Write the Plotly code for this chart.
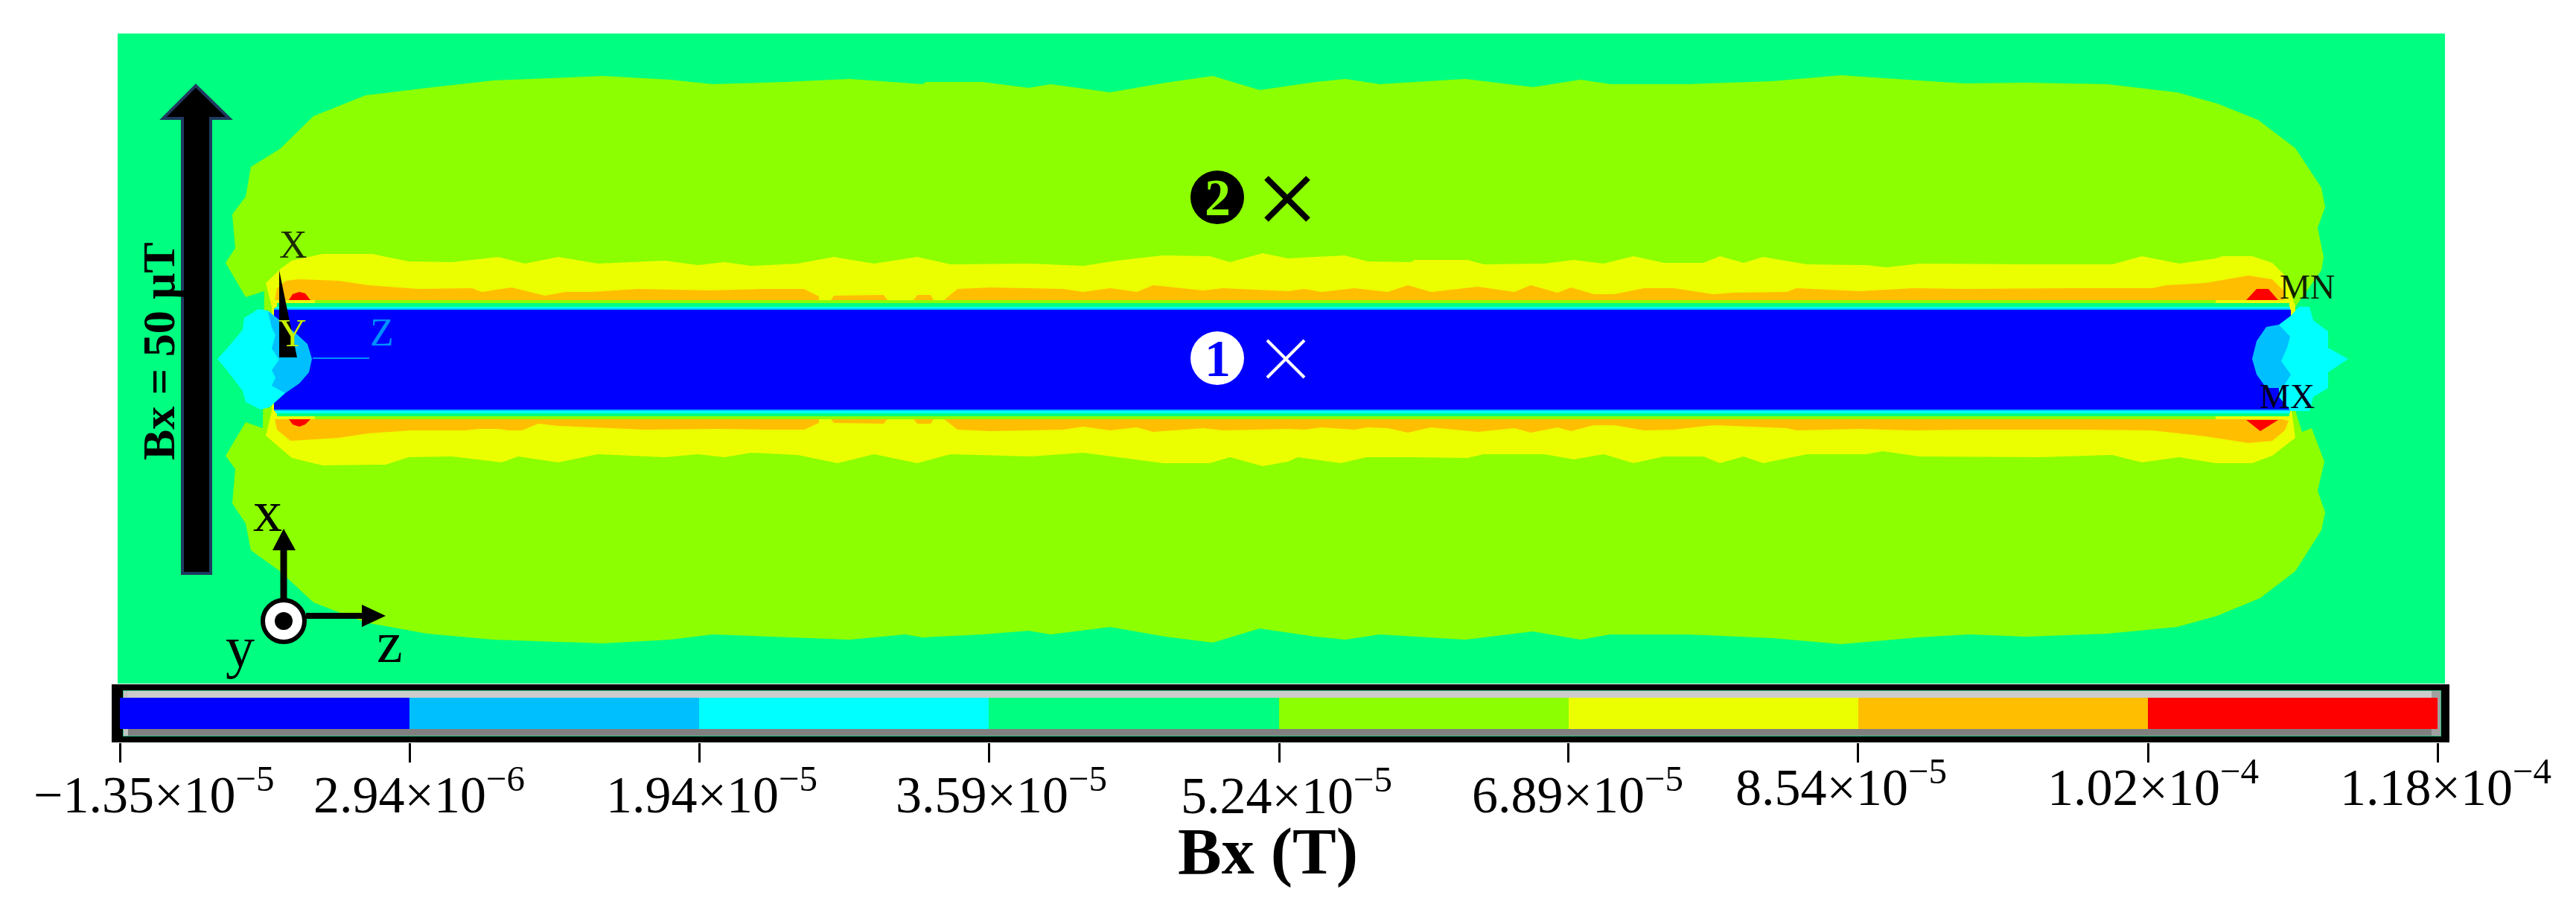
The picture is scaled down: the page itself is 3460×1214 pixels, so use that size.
import plotly.graph_objects as go

# contour colours, low to high, same order as the bar
band_colors = ["#0000FF", "#00BFFF", "#00FFFF", "#00FF80", "#8CFF00", "#EBFF00", "#FFBF00", "#FF0000"]
bar_edges = [-1.35e-5, 2.94e-6, 1.94e-5, 3.58e-5, 5.23e-5, 6.87e-5, 8.51e-5, 1.016e-4, 1.18e-4]
bar_bands = [[0, 1, 2, 3, 4, 5, 6, 7]]
bar_labels = [
    "−1.35×10<sup>−5</sup>", "2.94×10<sup>−6</sup>", "1.94×10<sup>−5</sup>",
    "3.59×10<sup>−5</sup>", "5.24×10<sup>−5</sup>", "6.89×10<sup>−5</sup>",
    "8.54×10<sup>−5</sup>", "1.02×10<sup>−4</sup>", "1.18×10<sup>−4</sup>",
]
bar_label_x = [207, 563, 956, 1345, 1728, 2119, 2473, 2892, 3285]
bar_label_y = [1062, 1062, 1062, 1062, 1063, 1062, 1052, 1052, 1052]

# contours as (horizontal, vertical) in image pixels
lobe_top = [
    (355, 391), (330, 399), (303, 353), (316, 333), (312, 288), (330, 264), (337, 224), (376, 200),
    (421, 156), (491, 128), (574, 118), (663, 108), (810, 102), (900, 107), (957, 113), (1055, 110),
    (1141, 106), (1239, 113), (1244, 110), (1319, 110), (1382, 118), (1411, 113), (1491, 124),
    (1566, 111), (1629, 102), (1692, 121), (1767, 110), (1807, 106), (1853, 113), (1968, 106),
    (2059, 117), (2123, 107), (2163, 113), (2266, 113), (2381, 109), (2473, 101), (2576, 108),
    (2639, 112), (2721, 111), (2830, 113), (2924, 124), (2978, 139), (3033, 161), (3083, 199),
    (3118, 252), (3123, 278), (3113, 306), (3121, 345), (3118, 363), (3083, 412),
]
lobe_bottom = [
    (3084, 555), (3092, 580), (3105, 575), (3122, 620), (3113, 659), (3123, 688), (3118, 712),
    (3083, 767), (3036, 803), (2978, 827), (2924, 842), (2830, 851), (2721, 855), (2645, 852),
    (2576, 856), (2473, 865), (2381, 857), (2266, 852), (2163, 852), (2123, 859), (2059, 848),
    (1968, 859), (1853, 852), (1807, 859), (1767, 855), (1692, 844), (1629, 863), (1566, 855),
    (1491, 842), (1411, 852), (1382, 847), (1319, 852), (1239, 856), (1216, 852), (1141, 859),
    (1055, 856), (957, 852), (900, 859), (810, 864), (663, 859), (574, 851), (491, 836),
    (421, 809), (376, 767), (337, 739), (330, 703), (312, 676), (316, 630), (303, 612),
    (330, 567), (353, 575),
]
yellow_top = [
    (365, 412), (357, 380), (378, 360), (392, 350), (433, 341), (500, 341), (549, 351), (607, 352),
    (669, 345), (705, 354), (750, 345), (803, 354), (893, 350), (937, 356), (973, 352), (1009, 357),
    (1071, 354), (1120, 345), (1174, 354), (1232, 345), (1277, 355), (1384, 354), (1455, 357),
    (1500, 350), (1562, 343), (1625, 344), (1652, 352), (1696, 340), (1730, 347), (1770, 345),
    (1806, 343), (1837, 351), (1895, 352), (1900, 349), (1971, 349), (1993, 355), (2074, 354),
    (2114, 349), (2154, 354), (2194, 344), (2235, 353), (2288, 353), (2310, 344), (2342, 353),
    (2368, 345), (2427, 355), (2507, 356), (2534, 359), (2578, 354), (2739, 355), (2837, 355),
    (2877, 344), (2927, 354), (2976, 347), (2985, 344), (3025, 344), (3052, 353), (3069, 370),
    (3083, 412),
]
yellow_bottom = [
    (3078, 552), (3083, 588), (3052, 612), (3025, 622), (2976, 622), (2927, 614), (2877, 621),
    (2837, 611), (2739, 614), (2578, 613), (2529, 606), (2507, 610), (2427, 610), (2368, 622),
    (2342, 613), (2310, 622), (2288, 613), (2235, 613), (2194, 622), (2154, 610), (2114, 617),
    (2074, 610), (1993, 610), (1971, 615), (1895, 614), (1835, 614), (1801, 622), (1743, 614),
    (1730, 620), (1696, 626), (1652, 614), (1625, 622), (1562, 622), (1500, 614), (1455, 608),
    (1384, 613), (1277, 610), (1232, 622), (1174, 610), (1125, 622), (1071, 611), (1009, 608),
    (973, 614), (937, 610), (893, 614), (803, 610), (750, 621), (696, 613), (674, 621), (607, 613),
    (549, 614), (518, 624), (433, 625), (392, 615), (357, 585), (365, 552),
]
orange_top = [
    (369, 403), (372, 387), (384, 377), (401, 375), (455, 377), (495, 383), (562, 388), (634, 387),
    (647, 392), (687, 386), (732, 397), (759, 392), (794, 392), (857, 388), (955, 390), (1027, 388),
    (1080, 388), (1100, 398), (1100, 403), (1116, 403), (1120, 397), (1187, 396), (1192, 403),
    (1227, 403), (1232, 396), (1250, 396), (1254, 403), (1268, 403), (1286, 388), (1330, 386),
    (1428, 388), (1455, 392), (1491, 387), (1527, 392), (1549, 383), (1616, 390), (1643, 387),
    (1730, 391), (1752, 388), (1775, 392), (1819, 387), (1864, 392), (1891, 383), (1922, 392),
    (1985, 385), (2034, 392), (2056, 383), (2092, 393), (2110, 386), (2141, 395), (2168, 395),
    (2208, 387), (2248, 387), (2302, 395), (2328, 393), (2400, 392), (2413, 387), (2498, 391),
    (2569, 387), (2641, 388), (2784, 387), (2891, 387), (2909, 383), (2962, 380), (3020, 370),
    (3052, 375), (3069, 392), (3068, 403),
]
orange_bottom = [
    (369, 563), (372, 577), (390, 592), (455, 588), (495, 582), (553, 578), (625, 578), (643, 576),
    (669, 576), (683, 578), (701, 578), (723, 569), (750, 572), (799, 574), (866, 577), (964, 576),
    (1027, 577), (1080, 577), (1100, 568), (1100, 563), (1116, 563), (1120, 568), (1187, 569),
    (1192, 563), (1227, 563), (1232, 569), (1250, 569), (1254, 563), (1268, 563), (1286, 577),
    (1330, 579), (1428, 577), (1455, 573), (1491, 578), (1527, 574), (1549, 580), (1616, 575),
    (1643, 578), (1730, 576), (1752, 577), (1775, 574), (1819, 577), (1837, 574), (1864, 575),
    (1891, 581), (1922, 574), (1985, 580), (2034, 575), (2056, 581), (2092, 574), (2110, 579),
    (2141, 571), (2168, 571), (2208, 578), (2248, 577), (2302, 571), (2328, 572), (2400, 575),
    (2413, 578), (2498, 576), (2569, 578), (2641, 577), (2784, 577), (2891, 578), (2962, 586),
    (3020, 595), (3052, 592), (3069, 578), (3074, 565), (3065, 563),
]
red_caps = [
    [(388, 403), (393, 395), (402, 392), (410, 394), (417, 403)],
    [(388, 563), (393, 570), (402, 573), (410, 570), (417, 563)],
    [(3017, 403), (3031, 388), (3047, 388), (3060, 403)],
    [(3017, 564), (3036, 579), (3060, 564)],
]
# thin layers along the conductor edges: band index, start, end, upper edge, lower edge
edge_strips = [
    (4, 423, 2976, 403, 407), (3, 372, 3075, 407, 412), (2, 370, 3076, 412, 414), (1, 368, 3076, 414, 416),
    (1, 368, 3076, 550, 552), (2, 370, 3076, 552, 555), (3, 372, 3075, 555, 559), (4, 423, 2976, 559, 563),
]
core = [(368, 416), (3077, 416), (3077, 550), (368, 550)]
left_cyan = [
    (292, 482), (303, 470), (326, 443), (328, 427), (347, 415), (360, 417), (375, 430),
    (383, 528), (362, 547), (350, 550), (330, 540), (326, 525), (303, 495),
]
left_blue = [
    (360, 418), (372, 427), (385, 437), (400, 450), (413, 462), (419, 482), (415, 500), (402, 515),
    (383, 528), (365, 518), (370, 507), (365, 497), (375, 483), (365, 468), (370, 450), (365, 440),
]
right_cyan = [
    (3154, 482), (3127, 467), (3127, 445), (3107, 430), (3102, 412), (3088, 412), (3077, 424),
    (3061, 436), (3061, 533), (3077, 552), (3102, 552), (3107, 533), (3127, 521), (3127, 500),
]
right_blue = [
    (3025, 482), (3031, 458), (3044, 439), (3061, 436), (3076, 452), (3072, 467), (3064, 485),
    (3077, 503), (3066, 521), (3044, 521), (3031, 503),
]
triad_needle = [(375, 363), (375, 480), (399, 480)]
field_arrow = [(245, 770), (245, 159), (219, 159), (263, 115), (308, 159), (283, 159), (283, 770)]


def patch(points, color):
    return go.Scatter(
        x=[p[0] for p in points],
        y=[p[1] for p in points],
        mode="lines",
        fill="toself",
        fillcolor=color,
        line=dict(width=0),
        hoverinfo="skip",
        showlegend=False,
    )


def label(text, x, y, size, color="black", bold=False, angle=0, family="Liberation Serif"):
    return dict(
        text=f"<b>{text}</b>" if bold else text,
        x=x, y=y, xref="x", yref="y",
        showarrow=False,
        xanchor="center", yanchor="middle",
        textangle=angle,
        font=dict(family=family, size=size, color=color),
    )


def box(x0, y0, x1, y1, color):
    return dict(type="rect", xref="x", yref="y", layer="below", x0=x0, y0=y0, x1=x1, y1=y1,
                fillcolor=color, line_width=0)


def poly(points, color, line_color=None, layer="above", width=0):
    path = "M" + "L".join(f"{a},{b}" for a, b in points) + "Z"
    return dict(type="path", xref="x", yref="y", layer=layer, path=path, fillcolor=color,
                line=dict(color=line_color or color, width=width))


def seg(x0, y0, x1, y1, color, width):
    return dict(type="line", xref="x", yref="y", x0=x0, y0=y0, x1=x1, y1=y1,
                line=dict(color=color, width=width))


fig = go.Figure()

fig.add_trace(patch(lobe_top + lobe_bottom, band_colors[4]))
fig.add_trace(patch(yellow_top + yellow_bottom, band_colors[5]))
fig.add_trace(patch(orange_top, band_colors[6]))
fig.add_trace(patch(orange_bottom, band_colors[6]))
for cap in red_caps:
    fig.add_trace(patch(cap, band_colors[7]))
for band, start, end, upper, lower in edge_strips:
    fig.add_trace(patch([(start, upper), (end, upper), (end, lower), (start, lower)], band_colors[band]))
fig.add_trace(patch(core, band_colors[0]))
fig.add_trace(patch(left_cyan, band_colors[2]))
fig.add_trace(patch(left_blue, band_colors[1]))
fig.add_trace(patch(right_cyan, band_colors[2]))
fig.add_trace(patch(right_blue, band_colors[1]))
fig.add_trace(patch(triad_needle, "black"))

# current direction crosses
fig.add_trace(go.Scatter(x=[1729], y=[267], mode="markers", hoverinfo="skip", showlegend=False,
                         marker=dict(symbol="x-thin", size=56, line=dict(color="black", width=8))))
fig.add_trace(go.Scatter(x=[1727], y=[482], mode="markers", hoverinfo="skip", showlegend=False,
                         marker=dict(symbol="x-thin", size=50, line=dict(color="white", width=4))))

# colour bar
step = 1 / len(band_colors)
stops = []
for i, c in enumerate(band_colors):
    stops += [[i * step, c], [(i + 1) * step, c]]
fig.add_trace(go.Heatmap(
    x=bar_edges, y=[0.3, 1], z=bar_bands, xaxis="x2", yaxis="y2",
    colorscale=stops, zmin=-0.5, zmax=7.5, showscale=False, hoverinfo="skip",
))

shapes = [
    box(158, 45, 3284, 918, band_colors[3]),
    box(150, 919, 3290, 997, "black"),
    box(165, 927, 3279, 989, "#30C080"),
    box(166, 928, 3278, 938, "#CCCCCC"),
    box(166, 978, 3278, 988, "#808080"),
    box(166, 928, 172, 988, "#C4C4C4"),
    box(3266, 928, 3278, 988, "#A0A0A0"),
    poly(field_arrow, "black", "#1F3A5F", width=4),
    seg(420, 481, 496, 481, "#0090FF", 2),
    # axis triad
    seg(381, 806, 381, 739, "black", 9),
    poly([(366, 739), (381, 710), (397, 739)], "black"),
    seg(411, 827, 486, 827, "black", 8),
    poly([(486, 812), (518, 827), (486, 842)], "black"),
    dict(type="circle", xref="x", yref="y", x0=353, y0=806, x1=409, y1=862, fillcolor="white",
         line=dict(color="black", width=6)),
    dict(type="circle", xref="x", yref="y", x0=369, y0=822, x1=393, y1=846, fillcolor="black", line_width=0),
    # conductor markers
    dict(type="circle", xref="x", yref="y", x0=1599, y0=229, x1=1671, y1=301, fillcolor="black", line_width=0),
    dict(type="circle", xref="x", yref="y", x0=1599, y0=445, x1=1671, y1=517, fillcolor="white", line_width=0),
]

annotations = [
    label(t, x, y, 70) for t, x, y in zip(bar_labels, bar_label_x, bar_label_y)
]
annotations += [
    label("Bx (T)", 1703, 1143, 88, bold=True),
    label("Bx = 50 μT", 213, 472, 62, bold=True, angle=-90),
    label("X", 394, 328, 52, color="#1A2A00"),
    label("Y", 393, 447, 52, color="#C8F000"),
    label("Z", 513, 446, 52, color="#0090FF"),
    label("MN", 3099, 385, 46, color="#102000"),
    label("MX", 3072, 532, 46, color="#000020"),
    label("x", 359, 686, 78),
    label("y", 322, 868, 78),
    label("z", 523, 862, 78),
    label("2", 1635, 265, 70, color=band_colors[4], bold=True),
    label("1", 1635, 481, 70, color=band_colors[0], bold=True),
]

fig.update_layout(
    width=3460,
    height=1214,
    margin=dict(l=0, r=0, t=0, b=0),
    paper_bgcolor="white",
    plot_bgcolor="rgba(0,0,0,0)",
    showlegend=False,
    shapes=shapes,
    annotations=annotations,
    xaxis=dict(range=[0, 3460], domain=[0, 1], visible=False),
    yaxis=dict(range=[1214, 0], domain=[0, 1], visible=False),
    xaxis2=dict(
        domain=[161 / 3460, 3274 / 3460],
        range=[bar_edges[0], bar_edges[-1]],
        anchor="y2",
        tickvals=bar_edges,
        showticklabels=False,
        ticks="outside",
        ticklen=26,
        tickwidth=3,
        tickcolor="black",
        showgrid=False,
        zeroline=False,
        showline=False,
    ),
    yaxis2=dict(
        domain=[1 - 997 / 1214, 1 - 937 / 1214],
        range=[0, 1],
        anchor="x2",
        visible=False,
    ),
)

# the page's default body margin would shift everything by 8 px
fig.write_html(
    "out.html",
    config={"displayModeBar": False},
    post_script="document.body.style.margin = '0';",
)
